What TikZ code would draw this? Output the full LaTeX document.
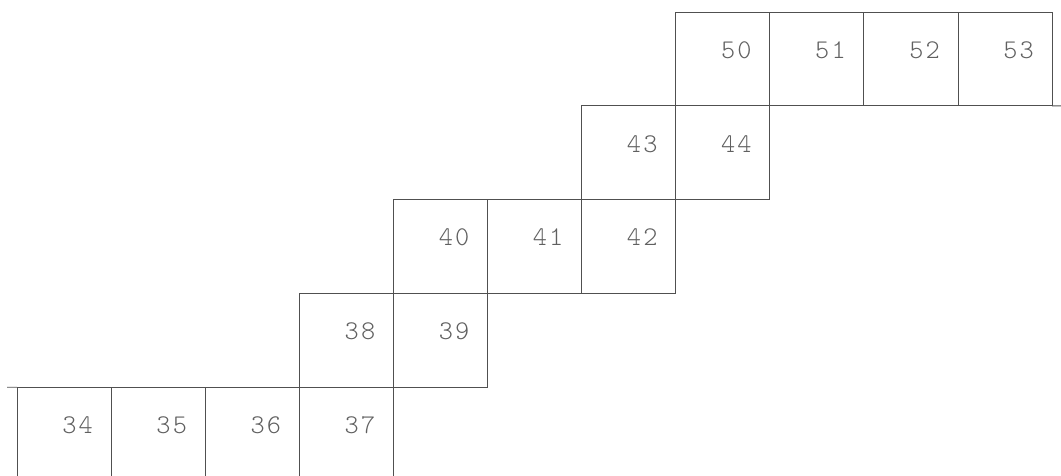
\documentclass[tikz,border=0pt]{standalone}
\usepackage{fontspec}
\newfontfamily\cellfont{Latin Modern Mono Light}[LetterSpace=8]
\definecolor{linegray}{HTML}{505050}
\definecolor{textgray}{HTML}{606060}
\tikzset{
  cellbox/.style={draw=linegray, line width=0.9pt, minimum width=94.1pt, minimum height=93.8pt, inner sep=0pt, outer sep=0pt},
  celllabel/.style={anchor=base east, inner sep=0pt, text=textgray, font=\cellfont\fontsize{27}{27}\selectfont},
  edgeline/.style={draw=linegray, line width=0.9pt}
}
\begin{document}
\begin{tikzpicture}[x=1pt,y=-1pt]
\useasboundingbox (0,0) rectangle (1061,475);
\clip (0,0) rectangle (1061,475);
\foreach \n/\c/\r in {50/7/0,51/8/0,52/9/0,53/10/0,43/6/1,44/7/1,40/4/2,41/5/2,42/6/2,38/3/3,39/4/3,34/0/4,35/1/4,36/2/4,37/3/4}{
  \node[cellbox, anchor=north west] (c\n) at ({17+94.1*\c},{12+93.8*\r}) {};
  \node[celllabel] (t\n) at ([xshift=-18pt, yshift=-46.3pt]c\n.north east) {\n};
}
\coordinate (leftend) at (7,387.2);
\coordinate (rightend) at (1070,105.8);
\draw[edgeline] (leftend) -- (c34.north west);
\draw[edgeline] (c53.south east) -- (rightend);
\end{tikzpicture}
\end{document}
